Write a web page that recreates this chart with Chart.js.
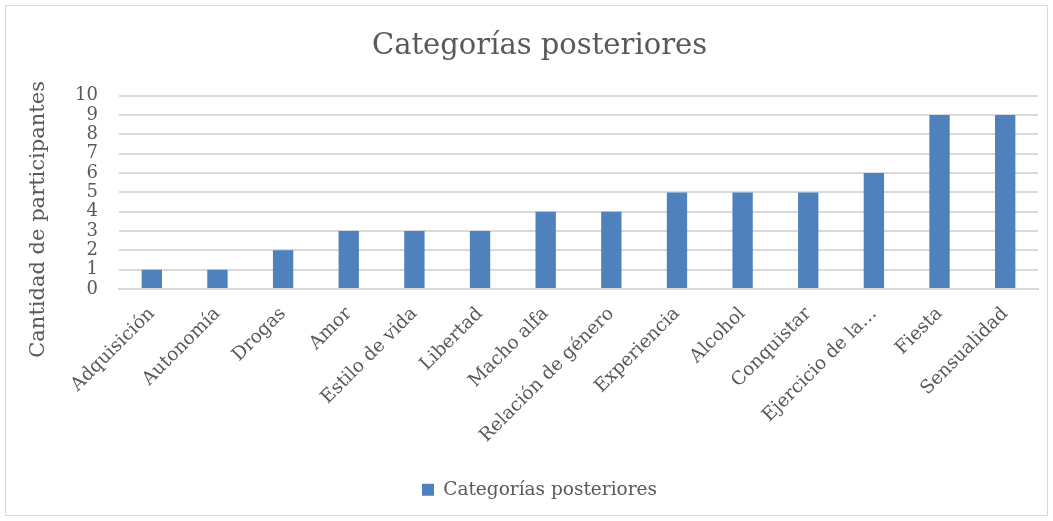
<!DOCTYPE html>
<html>
<head>
<meta charset="utf-8">
<script src="https://cdn.jsdelivr.net/npm/chart.js@4.4.1/dist/chart.umd.min.js"></script>
<style>
  html, body { margin: 0; padding: 0; background: #fff; }
  #wrap { position: absolute; left: 5px; top: 5px; width: 1041px; height: 509px; border: 1px solid #d9d9d9; }
  canvas { display: block; }
</style>
</head>
<body>
<div id="wrap"><canvas id="c" width="1041" height="509"></canvas></div>
<script>
const categories = ['Adquisición', 'Autonomía', 'Drogas', 'Amor', 'Estilo de vida', 'Libertad', 'Macho alfa',
  'Relación de género', 'Experiencia', 'Alcohol', 'Conquistar', 'Ejercicio de la…', 'Fiesta', 'Sensualidad'];
const participantes = [1, 1, 2, 3, 3, 3, 4, 4, 5, 5, 5, 6, 9, 9];
const seriesName = 'Categorías posteriores';
const titleText = 'Categorías posteriores';
const yAxisTitle = 'Cantidad de participantes';

const FONT = '"DejaVu Serif", serif';
const TEXT = '#595959';
const GRID = '#d9d9d9';
const BLUE = '#4f81bd';
const PAD_BOTTOM = 6;

// y-axis title, Excel puts it a bit lower than the plot centre
const yTitlePlugin = {
  id: 'yTitle',
  afterDraw(chart) {
    const { ctx, chartArea } = chart;
    ctx.save();
    ctx.translate(33, (chartArea.top + chartArea.bottom) / 2 + 27);
    ctx.rotate(-Math.PI / 2);
    ctx.font = `21px ${FONT}`;
    ctx.fillStyle = TEXT;
    ctx.textAlign = 'center';
    ctx.textBaseline = 'middle';
    ctx.fillText(yAxisTitle, 0, 0);
    ctx.restore();
  }
};

new Chart(document.getElementById('c'), {
  type: 'bar',
  data: {
    labels: categories,
    datasets: [{
      label: seriesName,
      data: participantes,
      backgroundColor: BLUE,
      borderWidth: 0,
      barPercentage: 1,
      categoryPercentage: 0.31,
    }],
  },
  options: {
    responsive: false,
    animation: false,
    devicePixelRatio: 1,
    layout: { padding: { left: 35, right: 9, top: 0, bottom: PAD_BOTTOM } },
    plugins: {
      title: {
        display: true,
        text: titleText,
        color: TEXT,
        font: { family: FONT, size: 29, weight: 'normal' },
        padding: { top: 23, bottom: 32 },
      },
      legend: {
        position: 'bottom',
        labels: {
          color: TEXT,
          font: { family: FONT, size: 18.5 },
          boxWidth: 12,
          boxHeight: 12,
          padding: 10,
        },
      },
      tooltip: { enabled: false },
    },
    scales: {
      x: {
        grid: { display: false },
        border: { color: GRID, width: 2 },
        ticks: {
          color: TEXT,
          font: { family: FONT, size: 18.5 },
          maxRotation: 45,
          minRotation: 45,
          autoSkip: false,
          padding: 6,
        },
        afterFit(scale) {
          scale.height = scale.chart.height - 283 - scale.chart.legend.height - PAD_BOTTOM;
        },
      },
      y: {
        min: 0,
        max: 10,
        border: { display: false },
        grid: { color: GRID, lineWidth: 2, drawTicks: false },
        ticks: {
          stepSize: 1,
          autoSkip: false,
          color: TEXT,
          font: { family: FONT, size: 18 },
          padding: 21,
        },
        afterFit(scale) { scale.width = 78; },
      },
    },
  },
  plugins: [yTitlePlugin],
});
</script>
</body>
</html>
